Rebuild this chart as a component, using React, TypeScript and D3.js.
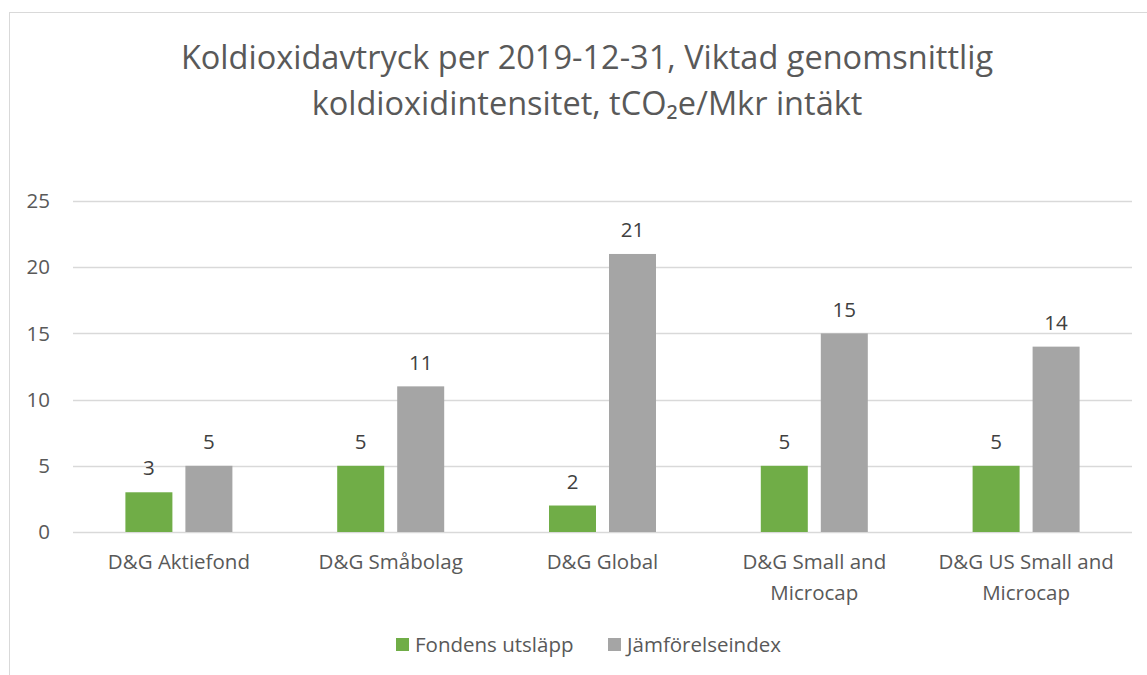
import * as d3 from 'd3';
import { useEffect, useRef } from 'react';

const categories = [
  ['D&G Aktiefond'],
  ['D&G Småbolag'],
  ['D&G Global'],
  ['D&G Small and', 'Microcap'],
  ['D&G US Small and', 'Microcap'],
];
const seriesNames = ['Fondens utsläpp', 'Jämförelseindex'];
const fundValues = [3, 5, 2, 5, 5];
const indexValues = [5, 11, 21, 15, 14];
const yTicks = [0, 5, 10, 15, 20, 25];
const colors = ['#70AD47', '#A5A5A5'];

const W = 1147;
const H = 675;
const FONT = '"Open Sans", sans-serif';
const LABEL = 20.5;

const App = () => {
  const ref = useRef<SVGSVGElement>(null);

  useEffect(() => {
    const svg = d3.select(ref.current);
    svg.selectAll('*').remove();

    // chart frame
    svg.append('rect')
      .attr('x', 9.5).attr('y', 12.5)
      .attr('width', W).attr('height', H + 20)
      .attr('fill', '#fff')
      .attr('stroke', '#D9D9D9');

    // title
    const title = svg.append('text')
      .attr('text-anchor', 'middle')
      .attr('font-family', FONT)
      .attr('font-size', 32.5)
      .attr('fill', '#595959');
    title.append('tspan').attr('x', 587).attr('y', 69)
      .text('Koldioxidavtryck per 2019-12-31, Viktad genomsnittlig');
    title.append('tspan').attr('x', 587).attr('y', 115)
      .text('koldioxidintensitet, tCO₂e/Mkr intäkt');

    const left = 73, right = 1132, top = 201, bottom = 532;

    const x = d3.scaleBand<number>()
      .domain(d3.range(categories.length))
      .range([left, right]);

    const y = d3.scaleLinear().domain([0, 25]).range([bottom, top]);

    const barW = 47;
    const gap = 13;

    // gridlines
    svg.append('g').selectAll('line')
      .data(yTicks)
      .join('line')
      .attr('x1', left).attr('x2', right)
      .attr('y1', d => Math.round(y(d)) + 0.5)
      .attr('y2', d => Math.round(y(d)) + 0.5)
      .attr('stroke', '#D9D9D9')
      .attr('stroke-width', 1.3);

    // y tick labels
    svg.append('g').selectAll('text')
      .data(yTicks)
      .join('text')
      .attr('x', 50)
      .attr('y', d => y(d))
      .attr('dy', '0.35em')
      .attr('text-anchor', 'end')
      .attr('font-family', FONT)
      .attr('font-size', LABEL)
      .attr('fill', '#595959')
      .text(d => d);

    const series = [fundValues, indexValues];
    series.forEach((vals, s) => {
      const offset = s === 0 ? -(gap / 2 + barW) : gap / 2;
      const g = svg.append('g');
      g.selectAll('rect')
        .data(vals)
        .join('rect')
        .attr('x', (d, i) => x(i)! + x.bandwidth() / 2 + offset)
        .attr('y', d => y(d))
        .attr('width', barW)
        .attr('height', d => y(0) - y(d))
        .attr('fill', colors[s]);
      g.selectAll('text')
        .data(vals)
        .join('text')
        .attr('x', (d, i) => x(i)! + x.bandwidth() / 2 + offset + barW / 2)
        .attr('y', d => y(d) - 24)
        .attr('dy', '0.35em')
        .attr('text-anchor', 'middle')
        .attr('font-family', FONT)
        .attr('font-size', LABEL)
        .attr('fill', '#404040')
        .text(d => d);
    });

    // category labels
    const cat = svg.append('g');
    categories.forEach((lines, i) => {
      const t = cat.append('text')
        .attr('text-anchor', 'middle')
        .attr('font-family', FONT)
        .attr('font-size', LABEL)
        .attr('fill', '#595959');
      lines.forEach((ln, j) => {
        t.append('tspan')
          .attr('x', x(i)! + x.bandwidth() / 2)
          .attr('y', 569 + j * 31)
          .text(ln);
      });
    });

    // legend
    const legendX = [396, 608];
    seriesNames.forEach((name, s) => {
      svg.append('rect')
        .attr('x', legendX[s]).attr('y', 638)
        .attr('width', 13).attr('height', 13)
        .attr('fill', colors[s]);
      svg.append('text')
        .attr('x', legendX[s] + 19).attr('y', 645)
        .attr('dy', '0.35em')
        .attr('font-family', FONT)
        .attr('font-size', LABEL)
        .attr('fill', '#595959')
        .text(name);
    });
  }, []);

  return (
    <svg
      ref={ref}
      width={W}
      height={H}
      style={{ position: 'absolute', left: 0, top: 0, background: '#fff' }}
    />
  );
};

export default App;
